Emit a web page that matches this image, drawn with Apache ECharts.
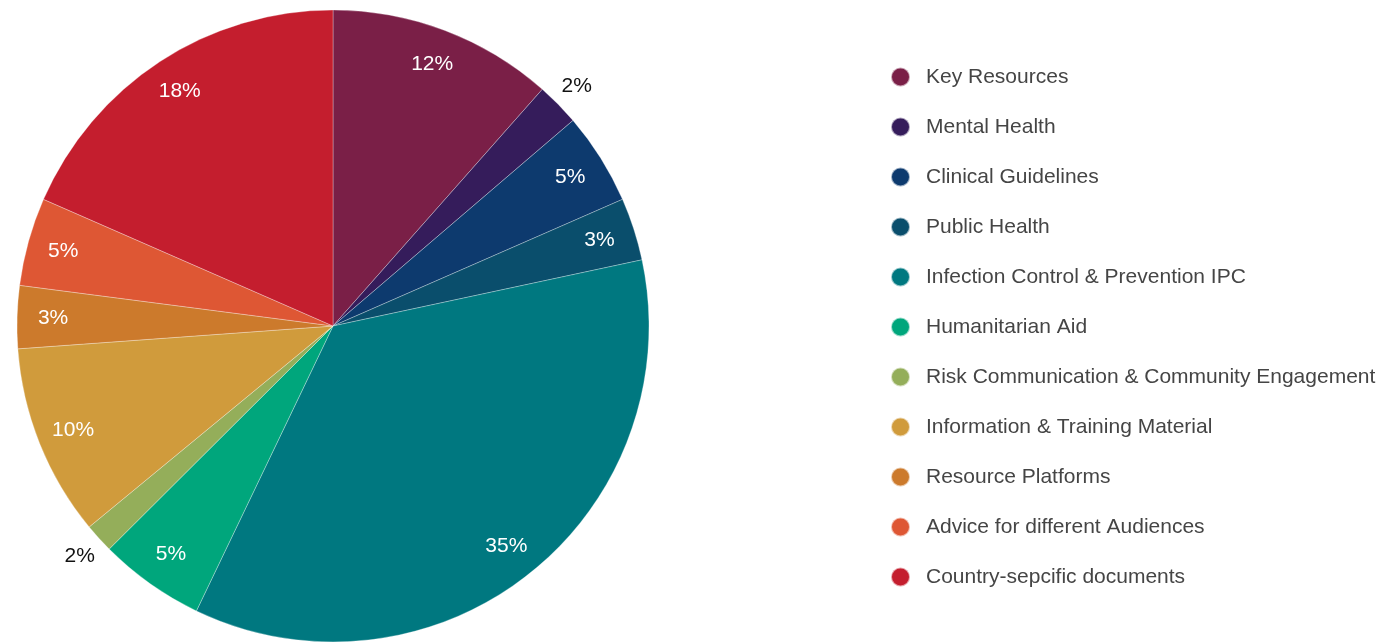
<!DOCTYPE html>
<html lang="en">
<head>
    <meta charset="UTF-8">
    <title>Resources by category</title>
    <script src="https://cdn.jsdelivr.net/npm/echarts@6/dist/echarts.min.js"></script>
    <style>
        html, body { margin: 0; padding: 0; background: #fff; }
        #main { width: 1389px; height: 643px; }
    </style>
</head>
<body>
<div id="main"></div>
<script>
    // categories and shares (percent of all documents)
    var categories = ['Key Resources', 'Mental Health', 'Clinical Guidelines', 'Public Health',
        'Infection Control & Prevention IPC', 'Humanitarian Aid', 'Risk Communication & Community Engagement',
        'Information & Training Material', 'Resource Platforms', 'Advice for different Audiences',
        'Country-sepcific documents'];
    var shares = [11.5, 2.2, 4.7, 3.2, 35.4, 5.4, 1.5, 9.8, 3.2, 4.5, 18.4];
    var colors = ['#7a1f47', '#351c5b', '#0d3a6e', '#0a4e6c', '#007880', '#00a67c',
        '#94ae5a', '#d09b3c', '#cc7a2c', '#de5734', '#c41e2e'];
    // slices too thin for an inside label
    var outsideLabel = ['Mental Health', 'Risk Communication & Community Engagement'];

    var center = [333, 326];
    var R = 316;

    var pieData = categories.map(function (name, i) {
        return { name: name, value: shares[i] };
    });

    function pct(p) { return Math.round(p.percent) + '%'; }

    var chart = echarts.init(document.getElementById('main'));
    chart.setOption({
        color: colors,
        animation: false,
        legend: {
            orient: 'vertical',
            left: 890,
            top: 66,
            padding: 0,
            icon: 'circle',
            itemWidth: 19,
            itemHeight: 19,
            itemGap: 28,
            textStyle: {
                fontFamily: 'Liberation Sans', fontSize: 21, color: '#454545',
                lineHeight: 22, padding: [0, 0, 0, 11]
            },
            data: categories
        },
        series: [
            {
                // the slices
                type: 'pie',
                center: center,
                radius: [0, R],
                silent: true,
                itemStyle: { borderColor: 'rgba(255,255,255,0.6)', borderWidth: 0.5 },
                label: { show: false },
                labelLine: { show: false },
                data: pieData
            },
            {
                // ring only used to place the white percent labels
                type: 'pie',
                center: center,
                radius: [238, R],
                silent: true,
                itemStyle: { color: 'rgba(0,0,0,0)' },
                label: {
                    show: true, position: 'inside', formatter: pct,
                    color: '#fff', fontFamily: 'Liberation Sans', fontSize: 21
                },
                labelLine: { show: false },
                data: pieData.map(function (d) {
                    return { name: d.name, value: d.value,
                        label: { show: outsideLabel.indexOf(d.name) < 0 } };
                })
            },
            {
                // outer ring for labels of the thin slices
                type: 'pie',
                center: center,
                radius: [R, R + 46],
                silent: true,
                itemStyle: { color: 'rgba(0,0,0,0)' },
                label: {
                    show: true, position: 'inside', formatter: pct,
                    color: '#111', fontFamily: 'Liberation Sans', fontSize: 21
                },
                labelLine: { show: false },
                data: pieData.map(function (d) {
                    return { name: d.name, value: d.value,
                        label: { show: outsideLabel.indexOf(d.name) >= 0 } };
                })
            }
        ]
    });
</script>
</body>
</html>
